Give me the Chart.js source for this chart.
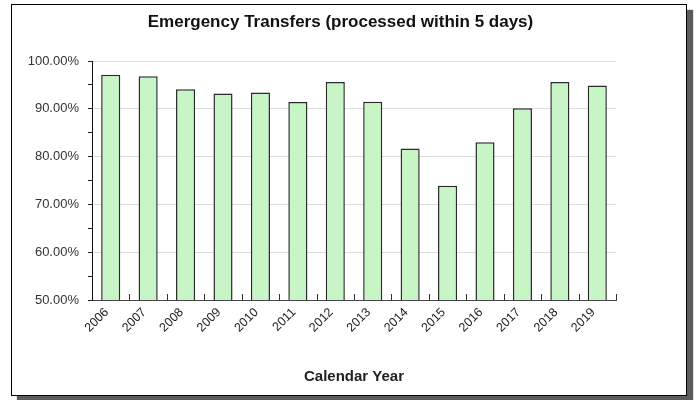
<!DOCTYPE html>
<html>
<head>
<meta charset="utf-8">
<script src="https://cdn.jsdelivr.net/npm/chart.js@4"></script>
<style>
  html, body { margin: 0; padding: 0; background: #fff; }
  #wrap { position: relative; width: 696px; height: 400px; overflow: hidden; }
  #frame { position: absolute; left: 11px; top: 4px; width: 676px; height: 392px; box-sizing: border-box;
           border: 1px solid #000; background: #fff; box-shadow: 6px 6px 1px #5c5c5c; }
  #c { position: absolute; left: 0; top: 0; }
</style>
</head>
<body>
<div id="wrap">
  <div id="frame"></div>
  <canvas id="c" width="696" height="400"></canvas>
</div>
<script>
const categories = ['2006','2007','2008','2009','2010','2011','2012','2013','2014','2015','2016','2017','2018','2019'];
const values = [97.1, 96.8, 94.1, 93.2, 93.4, 91.4, 95.6, 91.5, 81.7, 73.9, 83.0, 90.1, 95.6, 94.9];
const yMin = 50, yMax = 100, yStep = 5, yLabelStep = 10;
const titleText = 'Emergency Transfers (processed within 5 days)';
const xTitleText = 'Calendar Year';

const FONT = "'Liberation Sans', Arial, sans-serif";

const innerTicks = {
  id: 'innerTicks',
  afterDatasetsDraw(chart) {
    const x = chart.scales.x;
    const ctx = chart.ctx;
    const n = categories.length;
    const step = (x.right - x.left) / n;
    ctx.save();
    ctx.strokeStyle = '#333';
    ctx.lineWidth = 1;
    ctx.beginPath();
    for (let i = 1; i <= n; i++) {
      const px = Math.round(x.left + i * step) + 0.5;
      ctx.moveTo(px, x.top);
      ctx.lineTo(px, x.top - 6);
    }
    ctx.stroke();
    ctx.restore();
  }
};

new Chart(document.getElementById('c'), {
  type: 'bar',
  data: {
    labels: categories,
    datasets: [{
      data: values,
      backgroundColor: '#c8f5c6',
      borderColor: '#2a2a2a',
      borderWidth: 1.5,
      barPercentage: 0.51,
      categoryPercentage: 1.0
    }]
  },
  options: {
    responsive: false,
    animation: false,
    devicePixelRatio: 1,
    layout: { padding: { left: 0, right: 15, top: 0, bottom: 10 } },
    plugins: {
      legend: { display: false },
      tooltip: { enabled: false },
      title: {
        display: true,
        text: titleText,
        color: '#111',
        font: { family: FONT, size: 17, weight: 'bold' },
        padding: { top: 12, bottom: 28.6 }
      }
    },
    scales: {
      x: {
        offset: true,
        grid: { display: true, drawOnChartArea: false, drawTicks: false, color: 'transparent' },
        border: { display: true, color: '#444', width: 1 },
        ticks: {
          color: '#222',
          font: { family: FONT, size: 12.5 },
          maxRotation: 45, minRotation: 45,
          padding: 5,
          labelOffset: -4,
          autoSkip: false
        },
        title: {
          display: true,
          text: xTitleText,
          color: '#222',
          font: { family: FONT, size: 15, weight: 'bold' },
          padding: { top: 0, bottom: 4 }
        },
        afterFit(scale) { scale.height = 90; }
      },
      y: {
        min: yMin, max: yMax,
        ticks: {
          stepSize: yStep,
          color: '#333',
          font: { family: FONT, size: 13 },
          padding: 9,
          callback: (v) => (v % yLabelStep === 0 ? v.toFixed(2) + '%' : '')
        },
        grid: {
          color: (c) => (c.tick && c.tick.value % yLabelStep === 0 ? '#dcdcdc' : 'transparent'),
          tickColor: '#222',
          tickLength: 4,
          lineWidth: 1
        },
        border: { display: true, color: '#111', width: 1 },
        afterFit(scale) { scale.width = 92; }
      },
      yRightSpace: {
        type: 'linear',
        position: 'right',
        display: true,
        min: yMin, max: yMax,
        grid: { display: false, drawOnChartArea: false, drawTicks: false },
        border: { display: false },
        ticks: { display: false },
        afterFit(scale) { scale.width = 65; }
      }
    }
  },
  plugins: [innerTicks]
});
</script>
</body>
</html>
